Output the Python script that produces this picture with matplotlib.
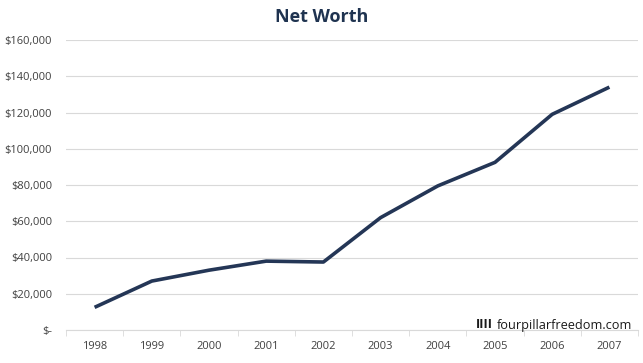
import matplotlib.pyplot as plt
import numpy as np

years = ['1998', '1999', '2000', '2001', '2002', '2003', '2004', '2005', '2006', '2007']
net_worth = [12500, 27000, 33000, 38000, 37500, 62000, 79500, 92500, 119000, 134000]
y_ticks = [0, 20000, 40000, 60000, 80000, 100000, 120000, 140000, 160000]

plt.rcParams['font.family'] = ['Open Sans', 'DejaVu Sans']

fig = plt.figure(figsize=(6.43, 3.63), dpi=100)
ax = fig.add_axes([66/643, 1 - 330/363, 572/643, 290/363])

x = np.arange(len(years))
ax.plot(x, net_worth, color='#243656', linewidth=2.6, solid_joinstyle='round', solid_capstyle='butt')

ax.set_xlim(-0.5, len(years) - 0.5)
ax.set_ylim(0, 160000)
ax.set_yticks(y_ticks)
ax.set_yticklabels(['$-' if v == 0 else f'${v:,.0f}' for v in y_ticks])
ax.set_xticks(x)
ax.set_xticklabels(years)
ax.set_xticks(np.arange(len(years) + 1) - 0.5, minor=True)

ax.grid(axis='y', color='#d9d9d9', linewidth=0.8)
ax.set_axisbelow(True)
for s in ['top', 'right', 'left']:
    ax.spines[s].set_visible(False)
ax.spines['bottom'].set_color('#d9d9d9')
ax.tick_params(axis='y', length=0, labelsize=8, labelcolor='#404040', pad=10)
ax.tick_params(axis='x', which='major', length=0, labelsize=8, labelcolor='#404040', pad=8)
ax.tick_params(axis='x', which='minor', length=4, color='#d9d9d9')

fig.text(0.5, 1 - 17/363, 'Net Worth', ha='center', va='center', fontsize=13,
         fontweight='bold', color='#1f3350')

# watermark: bold bars then site name
wm = fig.text(632/643, 1 - 325/363, 'fourpillarfreedom.com', ha='right', va='center',
              fontsize=9.2, color='#1a1a1a')
fig.canvas.draw()
bb = wm.get_window_extent()
fig.text((bb.x0 - 4) / fig.bbox.width, 1 - 325/363, 'IIII', ha='right', va='center',
         fontsize=9.2, fontweight='bold', color='#1a1a1a')

fig.savefig('out.png', dpi=100)
